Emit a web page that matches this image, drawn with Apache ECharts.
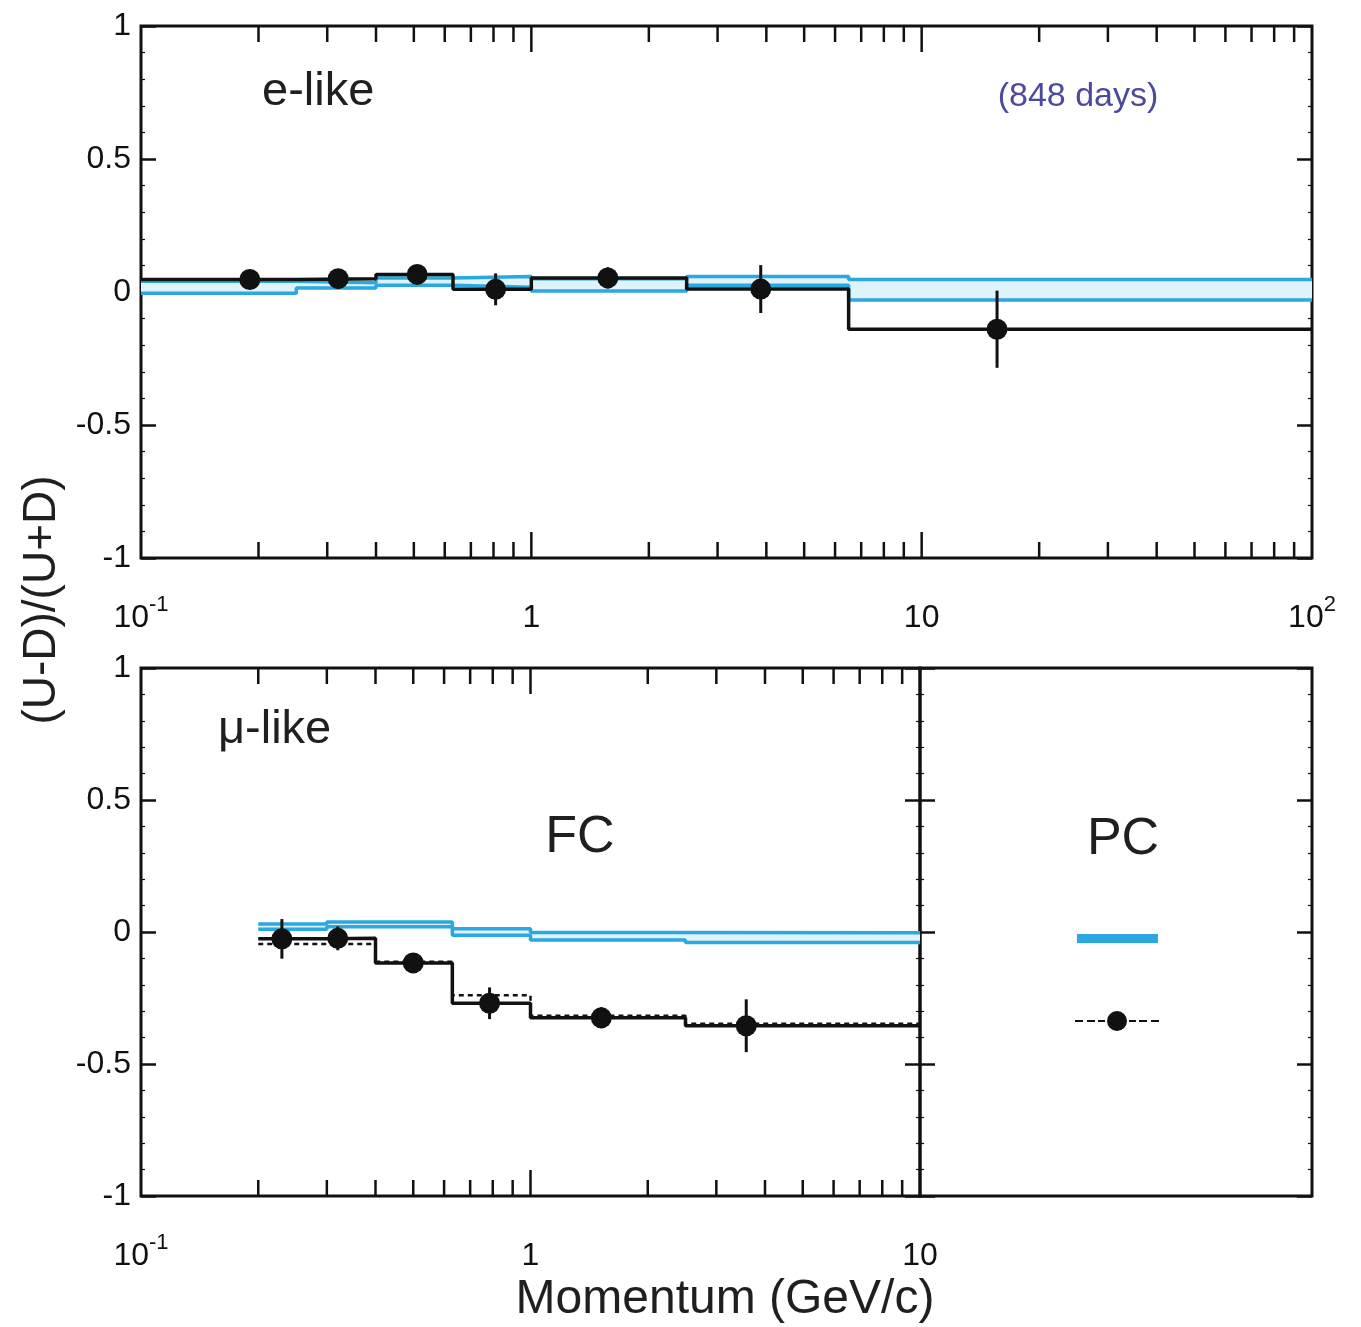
<!DOCTYPE html>
<html><head><meta charset="utf-8">
<script src="https://cdn.jsdelivr.net/npm/echarts@6/dist/echarts.min.js"></script>
<style>html,body{margin:0;padding:0;background:#fff}#c{width:1361px;height:1327px}</style>
</head><body><div id="c"></div>
<script>
// ---------- data ----------
// e-like (top panel)
const eEdges     = [0.1, 0.25, 0.4, 0.63, 1.0, 2.5, 6.5, 100];
const eMomentum  = [0.19, 0.32, 0.51, 0.81, 1.57, 3.87, 15.6];
const eValues    = [0.047, 0.05, 0.066, 0.01, 0.053, 0.011, -0.14];
const eErrors    = [0.03, 0.035, 0.035, 0.06, 0.04, 0.09, 0.145];
const eMcUpper   = [0.04, 0.035, 0.053, 0.058, 0.05, 0.058, 0.047];
const eMcLower   = [-0.005, 0.015, 0.025, 0.018, 0.004, 0.025, -0.03];
// mu-like FC (bottom panel)
const muEdges    = [0.2, 0.3, 0.4, 0.63, 1.0, 2.5, 10];
const muMomentum = [0.23, 0.32, 0.50, 0.785, 1.52, 3.58];
const muValues   = [-0.026, -0.024, -0.117, -0.27, -0.325, -0.355];
const muErrors   = [0.075, 0.045, 0.03, 0.06, 0.04, 0.1];
const muDashed   = [-0.045, -0.045, -0.113, -0.24, -0.317, -0.348];
const muMcUpper  = [0.03, 0.038, 0.038, 0.012, -0.002, -0.003];
const muMcLower  = [0.01, 0.02, 0.02, -0.012, -0.03, -0.04];
// axis ticks
const xMinorTicks = [0.2,0.3,0.4,0.5,0.6,0.7,0.8,0.9,2,3,4,5,6,7,8,9,20,30,40,50,60,70,80,90];
const xMajorTicks = [1, 10];
const xTickLabels = {'-1': '{b|10}{s|-1}', '0': '{b|1}', '1': '{b|10}', '2': '{b|10}{s|2}'};

// ---------- helpers ----------
const CYAN = '#2ba8df', PALE = '#dff3fb', INK = '#111111';
const FONT = '"Liberation Sans", Arial, sans-serif';
function hist(edges, vals) {
  const out = [];
  vals.forEach((v, i) => { out.push([edges[i], v]); out.push([edges[i + 1], v]); });
  return out;
}
function bandData(edges, lo, hi) { return lo.map((l, i) => [edges[i], edges[i + 1], l, hi[i]]); }
function errData(xs, ys, es) { return xs.map((x, i) => [x, ys[i], es[i]]); }
function pts(xs, ys) { return xs.map((x, i) => [x, ys[i]]); }
function tickData(maxV) {
  return xMinorTicks.filter(v => v < maxV).map(v => [v, 0])
    .concat(xMajorTicks.filter(v => v < maxV).map(v => [v, 1]));
}
function tickRender(params, api) {
  const cs = params.coordSys;
  const x = api.coord([api.value(0), 0])[0];
  const len = api.value(1) ? 26 : 16;
  const st = { stroke: INK, lineWidth: 2.5 };
  return { type: 'group', children: [
    { type: 'line', shape: { x1: x, y1: cs.y, x2: x, y2: cs.y + len }, style: st },
    { type: 'line', shape: { x1: x, y1: cs.y + cs.height, x2: x, y2: cs.y + cs.height - len }, style: st }
  ]};
}
function errRender(params, api) {
  const x = api.value(0), y = api.value(1), e = api.value(2);
  const p1 = api.coord([x, y - e]), p2 = api.coord([x, y + e]);
  return { type: 'line', shape: { x1: p1[0], y1: p1[1], x2: p2[0], y2: p2[1] }, style: { stroke: INK, lineWidth: 3 } };
}
function bandRender(params, api) {
  const a = api.coord([api.value(0), api.value(3)]);
  const b = api.coord([api.value(1), api.value(2)]);
  return { type: 'rect', shape: { x: a[0], y: a[1], width: b[0] - a[0], height: b[1] - a[1] }, style: { fill: PALE } };
}
function xLabel(v) { return xTickLabels[String(Math.round(Math.log10(v)))] || ''; }

const rich = {
  b: { fontSize: 32, fontFamily: FONT, color: INK, lineHeight: 40, verticalAlign: 'bottom' },
  s: { fontSize: 22, fontFamily: FONT, color: INK, lineHeight: 18, verticalAlign: 'top' }
};
function xAxisCfg(grid, max) {
  return { type: 'log', logBase: 10, gridIndex: grid, min: 0.1, max: max,
    axisLine: { show: false }, axisTick: { show: false }, splitLine: { show: false }, minorTick: { show: false },
    axisLabel: { margin: 36, formatter: xLabel, rich: rich } };
}
function yAxisCfg(grid, pos, labels) {
  return { type: 'value', gridIndex: grid, position: pos, min: -1, max: 1, interval: 0.5,
    axisLine: { show: false }, splitLine: { show: false },
    axisTick: { show: true, inside: true, length: 15, lineStyle: { color: INK, width: 2.5 } },
    minorTick: { show: true, splitNumber: 5, length: 4, lineStyle: { color: INK, width: 1.2 } },
    axisLabel: { show: labels, margin: 10, fontSize: 32, fontFamily: FONT, color: INK } };
}
const gridStyle = { show: true, borderColor: INK, borderWidth: 3, backgroundColor: 'transparent' };

const series = [];
function panel(xi, yi, edges, mom, vals, errs, up, lo, dashed, maxV) {
  series.push({ type: 'custom', xAxisIndex: xi, yAxisIndex: yi, renderItem: bandRender, data: bandData(edges, lo, up),
    encode: { x: [0, 1], y: [2, 3] }, z: 1, silent: true });
  series.push({ name: 'MC', type: 'line', xAxisIndex: xi, yAxisIndex: yi, data: hist(edges, up), symbol: 'none',
    color: CYAN, lineStyle: { color: CYAN, width: 3.5 }, z: 2 });
  series.push({ name: 'MC', type: 'line', xAxisIndex: xi, yAxisIndex: yi, data: hist(edges, lo), symbol: 'none',
    color: CYAN, lineStyle: { color: CYAN, width: 3.5 }, z: 2 });
  if (dashed) {
    series.push({ type: 'line', xAxisIndex: xi, yAxisIndex: yi, data: hist(edges, dashed), symbol: 'none',
      lineStyle: { color: INK, width: 2.5, type: [5, 4] }, z: 3 });
  }
  series.push({ type: 'line', xAxisIndex: xi, yAxisIndex: yi, data: hist(edges, vals), symbol: 'none',
    lineStyle: { color: INK, width: 3.5 }, z: 3 });
  series.push({ type: 'custom', xAxisIndex: xi, yAxisIndex: yi, renderItem: errRender, data: errData(mom, vals, errs),
    encode: { x: 0, y: 1 }, z: 4 });
  series.push({ name: 'Data', type: 'scatter', xAxisIndex: xi, yAxisIndex: yi, data: pts(mom, vals),
    symbol: 'circle', symbolSize: 21, itemStyle: { color: INK, opacity: 1 }, z: 5 });
  series.push({ type: 'custom', xAxisIndex: xi, yAxisIndex: yi, renderItem: tickRender, data: tickData(maxV),
    encode: { x: 0, y: 1 }, clip: false, z: 6, silent: true });
}
panel(0, 0, eEdges, eMomentum, eValues, eErrors, eMcUpper, eMcLower, null, 100);
panel(1, 2, muEdges, muMomentum, muValues, muErrors, muMcUpper, muMcLower, muDashed, 10);

const dataIcon = 'path://M0 10h8v2h-8z M12 10h8v2h-8z M23 10h7v2h-7z M32 11a10 10 0 1 0 20 0a10 10 0 1 0 -20 0z M54 10h7v2h-7z M64 10h8v2h-8z M76 10h8v2h-8z M42 0.5h0.01z M42 21.5h0.01z';

const option = {
  backgroundColor: '#fff',
  animation: false,
  grid: [
    Object.assign({ left: 141, top: 26, width: 1171, height: 532 }, gridStyle),
    Object.assign({ left: 141, top: 668, width: 779, height: 528 }, gridStyle),
    Object.assign({ left: 920, top: 668, width: 392, height: 528 }, gridStyle)
  ],
  xAxis: [
    xAxisCfg(0, 100),
    xAxisCfg(1, 10),
    { type: 'value', gridIndex: 2, min: 0, max: 1, show: false }
  ],
  yAxis: [
    yAxisCfg(0, 'left', true), yAxisCfg(0, 'right', false),
    yAxisCfg(1, 'left', true), yAxisCfg(1, 'right', false),
    yAxisCfg(2, 'left', false), yAxisCfg(2, 'right', false)
  ],
  legend: [
    { data: [{ name: 'MC', icon: 'rect' }], left: 1077, top: 934, padding: 0, itemWidth: 81, itemHeight: 9,
      formatter: function () { return ''; }, selectedMode: false },
    { data: [{ name: 'Data', icon: dataIcon, itemStyle: { color: INK, opacity: 1 } }], left: 1075, top: 1010, padding: 0, itemWidth: 84, itemHeight: 22,
      formatter: function () { return ''; }, selectedMode: false }
  ],
  graphic: [
    { type: 'text', x: 262, y: 92, style: { text: 'e-like', font: '47px ' + FONT, fill: '#1f1f1f', textAlign: 'left', textVerticalAlign: 'middle' } },
    { type: 'text', x: 1078, y: 97, style: { text: '(848 days)', font: '34px ' + FONT, fill: '#4b4a9c', textAlign: 'center', textVerticalAlign: 'middle' } },
    { type: 'text', x: 218, y: 730, style: { text: 'μ-like', font: '47px ' + FONT, fill: '#1f1f1f', textAlign: 'left', textVerticalAlign: 'middle' } },
    { type: 'text', x: 580, y: 838, style: { text: 'FC', font: '52px ' + FONT, fill: '#1f1f1f', textAlign: 'center', textVerticalAlign: 'middle' } },
    { type: 'text', x: 1123, y: 840, style: { text: 'PC', font: '52px ' + FONT, fill: '#1f1f1f', textAlign: 'center', textVerticalAlign: 'middle' } },
    { type: 'text', x: 42, y: 600, rotation: Math.PI / 2, style: { text: '(U-D)/(U+D)', font: '46px ' + FONT, fill: '#1f1f1f', textAlign: 'center', textVerticalAlign: 'middle' } },
    { type: 'text', x: 725, y: 1300, style: { text: 'Momentum (GeV/c)', font: '48px ' + FONT, fill: '#1f1f1f', textAlign: 'center', textVerticalAlign: 'middle' } }
  ],
  series: series
};
const chart = echarts.init(document.getElementById('c'), null, { renderer: 'canvas' });
chart.setOption(option);
</script>
</body></html>
